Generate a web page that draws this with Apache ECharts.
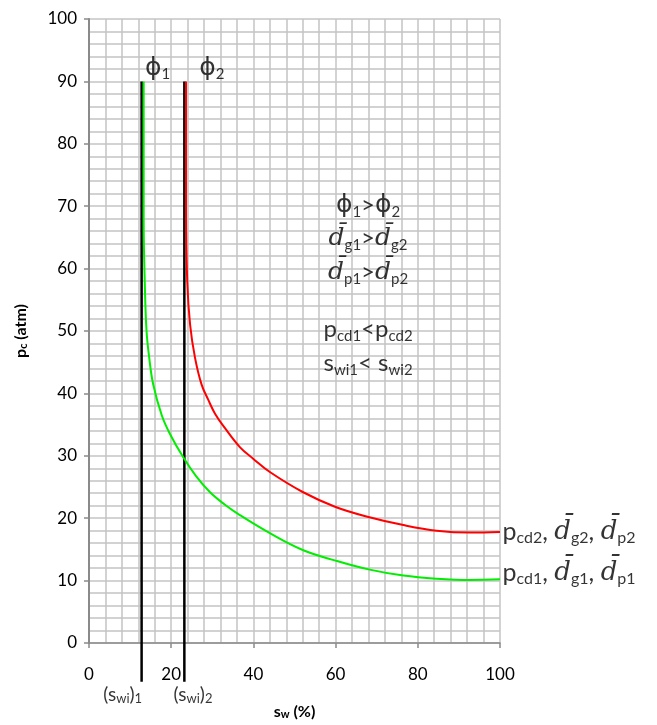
<!DOCTYPE html>
<html><head><meta charset="utf-8">
<script src="https://cdn.jsdelivr.net/npm/echarts@6/dist/echarts.min.js"></script>
<style>html,body{margin:0;padding:0;background:#fff}#c{width:657px;height:725px}</style>
</head><body><div id="c"></div>
<script>
// ---- data ----
const xTickValues = [0, 20, 40, 60, 80, 100];
const yTickValues = [0, 10, 20, 30, 40, 50, 60, 70, 80, 90, 100];

// curve 1 (green): sw (%) vs pc (atm)
const greenSw = [13.3, 13.3, 13.3, 13.6, 14.0, 14.6, 15.6, 17.7, 19.7, 22.9, 26.0, 29.4, 33.0, 36.7, 44.0, 52.0, 60.0, 68.0, 76.5, 84.6, 92.7, 100];
const greenPc = [90, 80, 68, 57, 50, 46, 41.5, 36.5, 33.5, 29.8, 26.8, 24.2, 22.2, 20.5, 17.6, 14.9, 13.2, 11.8, 10.8, 10.3, 10.1, 10.2];
// curve 2 (red)
const redSw = [23.6, 23.6, 23.6, 23.9, 24.6, 25.8, 27.4, 29.0, 30.7, 33.0, 36.7, 40.0, 44.0, 52.0, 60.0, 68.0, 76.5, 84.6, 92.7, 100];
const redPc = [90, 80, 70, 58, 51, 45.7, 41.4, 39.0, 36.7, 34.5, 31.4, 29.5, 27.4, 24.2, 21.8, 20.2, 18.9, 18.0, 17.7, 17.8];
// irreducible water saturation markers
const swiSw = [12.8, 23.2];
const swiTopPc = 90;
const swiBottomPc = -6.2;

// text annotations (label anchor coordinates in data units)
const phiLabelSw = [13.6, 26.8];
const phiLabelPc = [89.9, 89.9];
const swiLabelSw = [8.2, 25.3];
const swiLabelPc = -8.3;
const noteSw = 67.9;
const notePc = [70.1, 64.8, 59.4, 50.2, 44.8];
const endLabelSw = 100.6;
const endLabelPc = [17.8, 11.2];

// ---- chart ----
const F = 'Lato, "Open Sans", sans-serif';
const rich = {
  n: {fontSize: 24, fontFamily: F, color: '#000', lineHeight: 28},
  s: {fontSize: 15, fontFamily: F, color: '#000', lineHeight: 15, verticalAlign: 'bottom'},
  d: {fontSize: 25, fontFamily: '"DejaVu Serif", serif', fontStyle: 'italic', color: '#000', lineHeight: 28},
  g: {fontSize: 25, fontFamily: '"DejaVu Sans", sans-serif', color: '#000', lineHeight: 28},
  m: {fontSize: 19, fontFamily: F, color: '#000', lineHeight: 22},
  ms: {fontSize: 13, fontFamily: F, color: '#000', lineHeight: 13, verticalAlign: 'bottom'},
  en: {fontSize: 25, fontFamily: F, color: '#000', lineHeight: 28},
  es: {fontSize: 16, fontFamily: F, color: '#000', lineHeight: 16, verticalAlign: 'bottom'},
  ed: {fontSize: 26, fontFamily: '"DejaVu Serif", serif', fontStyle: 'italic', color: '#000', lineHeight: 28}
};
const noteTexts = [
  '{g|ϕ}{s|1}{n|>}{g|ϕ}{s|2}',
  '{d|d̄}{s|g1}{n|>}{d|d̄}{s|g2}',
  '{d|d̄}{s|p1}{n|>}{d|d̄}{s|p2}',
  '{n|p}{s|cd1}{n|<p}{s|cd2}',
  '{n|s}{s|wi1}{n|< s}{s|wi2}'
];
const endTexts = [
  '{en|p}{es|cd2}{en|, }{ed|d̄}{es|g2}{en|, }{ed|d̄}{es|p2}',
  '{en|p}{es|cd1}{en|, }{ed|d̄}{es|g1}{en|, }{ed|d̄}{es|p1}'
];
const phiTexts = ['{g|ϕ}{s|1}', '{g|ϕ}{s|2}'];
const swiTexts = ['{m|(s}{ms|wi}{m|)}{ms|1}', '{m|(s}{ms|wi}{m|)}{ms|2}'];

function labelSeries(xs, ys, texts, align, vAlign) {
  return {
    type: 'scatter', symbolSize: 0, clip: false, silent: true, z: 10,
    data: xs.map((x, i) => ({value: [x, ys[i]], label: {formatter: texts[i]}})),
    label: {show: true, position: [0, 0], align: align, verticalAlign: vAlign, rich: rich}
  };
}
const gridColor = '#c4c4c4';
const nameRich = {
  b: {fontSize: 16, fontWeight: 'bold', fontFamily: F, color: '#000'},
  bs: {fontSize: 11, fontWeight: 'bold', fontFamily: F, color: '#000', verticalAlign: 'bottom', lineHeight: 11}
};
const chart = echarts.init(document.getElementById('c'), null, {renderer: 'canvas'});
chart.setOption({
  animation: false,
  backgroundColor: '#fff',
  grid: {left: 89, right: 157, top: 19, bottom: 78, containLabel: false},
  xAxis: {
    type: 'value', min: 0, max: 100, interval: 20,
    name: '{b|s}{bs|w}{b| (%)}', nameLocation: 'middle', nameGap: 61,
    nameTextStyle: {rich: nameRich},
    axisLine: {show: true, onZero: false, lineStyle: {color: '#8a8a8a', width: 1.5}},
    axisTick: {show: true, length: 5, inside: false, lineStyle: {color: '#8a8a8a', width: 1.5}},
    axisLabel: {margin: 23, fontSize: 17, fontFamily: F, color: '#000', formatter: v => xTickValues.includes(v) ? String(v) : ''},
    splitLine: {show: true, lineStyle: {color: gridColor, width: 1.5}},
    minorTick: {show: false, splitNumber: 5},
    minorSplitLine: {show: true, lineStyle: {color: gridColor, width: 1.5}}
  },
  yAxis: {
    type: 'value', min: 0, max: 100, interval: 10,
    name: '{b|p}{bs|c}{b| (atm)}', nameLocation: 'middle', nameGap: 60, nameRotate: 90,
    nameTextStyle: {rich: nameRich},
    axisLine: {show: true, onZero: false, lineStyle: {color: '#8a8a8a', width: 2}},
    axisTick: {show: true, length: 5, inside: false, lineStyle: {color: '#8a8a8a', width: 1.5}},
    axisLabel: {margin: 12, fontSize: 17, fontFamily: F, color: '#000', formatter: v => yTickValues.includes(v) ? String(v) : ''},
    splitLine: {show: true, lineStyle: {color: gridColor, width: 1.5}},
    minorTick: {show: false, splitNumber: 5},
    minorSplitLine: {show: true, lineStyle: {color: gridColor, width: 1.5}}
  },
  series: [
    {type: 'line', clip: false, symbol: 'none', silent: true, z: 3,
     lineStyle: {color: '#000', width: 2.5},
     data: [[swiSw[0], swiTopPc], [swiSw[0], swiBottomPc]]},
    {type: 'line', clip: false, symbol: 'none', silent: true, z: 3,
     lineStyle: {color: '#000', width: 2.5},
     data: [[swiSw[1], swiTopPc], [swiSw[1], swiBottomPc]]},
    {type: 'line', symbol: 'none', smooth: 0.4, silent: true, z: 4,
     lineStyle: {color: '#00ee00', width: 2},
     data: greenSw.map((x, i) => [x, greenPc[i]])},
    {type: 'line', symbol: 'none', smooth: 0.4, silent: true, z: 4,
     lineStyle: {color: '#ff0000', width: 2},
     data: redSw.map((x, i) => [x, redPc[i]])},
    labelSeries(phiLabelSw, phiLabelPc, phiTexts, 'left', 'bottom'),
    labelSeries(swiLabelSw, [swiLabelPc, swiLabelPc], swiTexts, 'center', 'middle'),
    labelSeries(notePc.map(() => noteSw), notePc, noteTexts, 'center', 'middle'),
    labelSeries([endLabelSw, endLabelSw], endLabelPc, endTexts, 'left', 'middle')
  ]
});
</script></body></html>
